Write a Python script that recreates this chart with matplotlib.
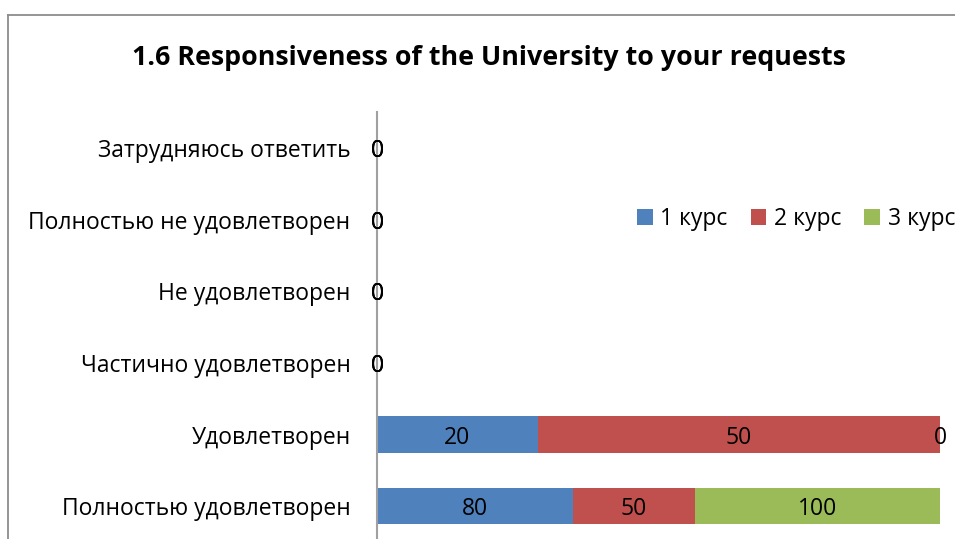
import numpy as np
import matplotlib
matplotlib.use("Agg")
import matplotlib.pyplot as plt
from matplotlib.lines import Line2D

plt.rcParams['font.family'] = ['Open Sans', 'DejaVu Sans']

categories = ["Полностью удовлетворен", "Удовлетворен", "Частично удовлетворен",
              "Не удовлетворен", "Полностью не удовлетворен", "Затрудняюсь ответить"]
kurs1 = [80, 20, 0, 0, 0, 0]
kurs2 = [50, 50, 0, 0, 0, 0]
kurs3 = [100, 0, 0, 0, 0, 0]
series_names = ["1 курс", "2 курс", "3 курс"]
colors = ["#4F81BD", "#C0504D", "#9BBB59"]

W, H = 955, 539
fig = plt.figure(figsize=(W / 100, H / 100), dpi=100)

# chart frame (cut off at right and bottom)
fig.add_artist(Line2D([8 / W, 1], [1 - 15 / H, 1 - 15 / H], color="#8c8c8c", lw=1.3))
fig.add_artist(Line2D([8 / W, 8 / W], [0, 1 - 15 / H], color="#8c8c8c", lw=1.3))

ax = fig.add_axes([377 / W, -3 / H, (940 - 377) / W, (539 - 112 + 3) / H])

data = np.array([kurs1, kurs2, kurs3], dtype=float)
totals = data.sum(axis=0)
share = np.divide(data, totals, out=np.zeros_like(data), where=totals > 0)

fs = 16.5
y = np.arange(len(categories))
left = np.zeros(len(categories))
for vals, sh, name, c in zip(data, share, series_names, colors):
    ax.barh(y, sh, left=left, height=0.51, color=c, label=name)
    for yi, v, l, s in zip(y, vals, left, sh):
        ax.text(l + s / 2, yi, f"{v:g}", ha="center", va="center_baseline", fontsize=fs)
    left = left + sh

ax.set_xlim(0, 1)
ax.set_ylim(-0.5, len(categories) - 0.5)
ax.set_yticks(y)
ax.set_yticklabels(categories, fontsize=fs, va="center_baseline")
ax.tick_params(axis="y", length=0, pad=19)
ax.set_xticks([])
for s in ["top", "right", "bottom"]:
    ax.spines[s].set_visible(False)
ax.spines["left"].set_color("#a0a0a0")
ax.spines["left"].set_linewidth(1.5)

fig.text(489 / W, 1 - 58 / H, "1.6 Responsiveness of the University to your requests",
         ha="center", va="center", fontsize=19.3, fontweight="bold")

fig.legend(loc="center left", bbox_to_anchor=(637 / W, 1 - 219 / H), ncol=3,
           frameon=False, fontsize=fs, handlelength=0.68, handleheight=0.68,
           handletextpad=0.34, columnspacing=1.0, borderaxespad=0, borderpad=0)

fig.savefig("out.png", dpi=100)
